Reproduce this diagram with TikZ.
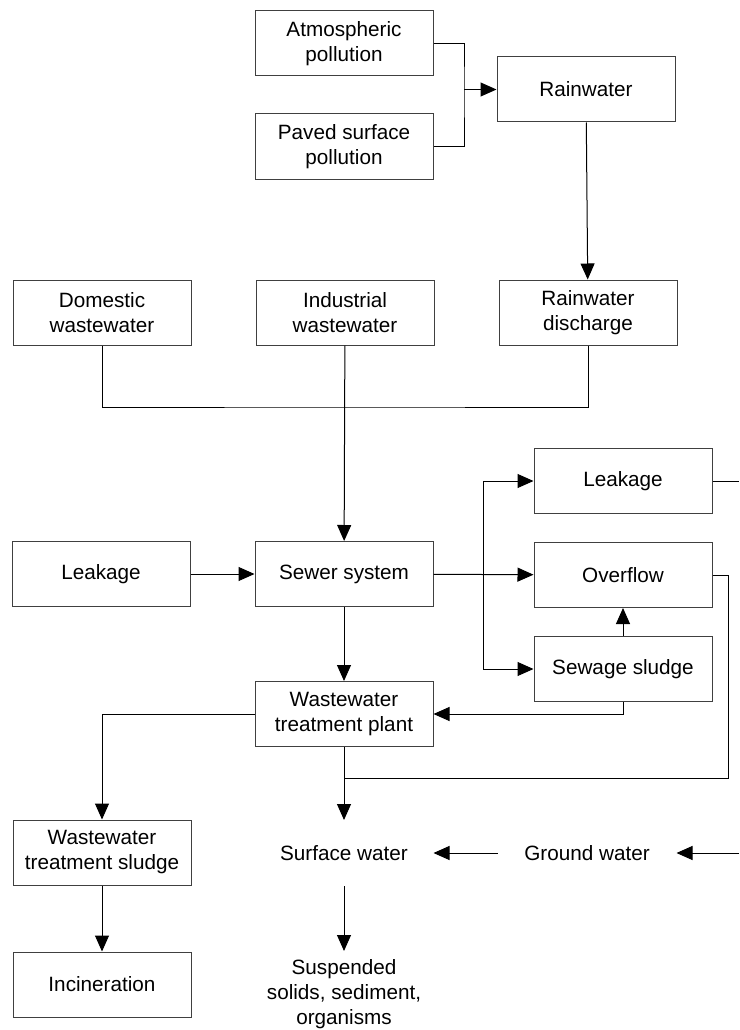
\documentclass[tikz,border=0pt]{standalone}
\usepackage{fontspec}
\setmainfont{Liberation Sans}
\usepackage{tikz}
\usetikzlibrary{arrows.meta,positioning}
\tikzset{%
   box/.style={rectangle, draw=black!75, line width=1pt, minimum width=178pt, minimum height=65pt, inner sep=0pt, align=center, font=\fontsize{20.7}{25}\selectfont},
   txt/.style={box, draw=none},
   arr/.style={-{Triangle[length=16pt, width=14pt]}},
}

\begin{document}
\begin{tikzpicture}[x=1pt, y=-1pt, line width=1pt]
      \useasboundingbox (0,0) rectangle (739,1030);
      \node[box] (atm) at (344,43.5) {Atmospheric\\pollution};
      \node[box, below=37pt of atm] (pav) {Paved surface\\pollution};
      \node[box] (rain) at (586,89.5) {Rainwater};
      \node[box] (dom) at (102,312.5) {Domestic\\wastewater};
      \node[box, right=64pt of dom] (ind) {Industrial\\wastewater};
      \node[box, right=64pt of ind] (rdis) {Rainwater\\discharge};
      \node[box] (sewer) at (344,574) {Sewer system};
      \node[box, left=64pt of sewer] (leakl) {Leakage};
      \node[box] (leakr) at (623,481) {Leakage};
      \node[box, below=28pt of leakr] (over) {Overflow};
      \node[box, below=28pt of over] (sludge) {Sewage sludge};
      \node[box, below=74pt of sewer] (wtp) {Wastewater\\treatment plant};
      \node[box] (wts) at (102,852.5) {Wastewater\\treatment sludge};
      \node[box, below=66pt of wts] (inc) {Incineration};
      \node[txt] (surf) at (344,853) {Surface water};
      \node[txt, right=64pt of surf] (ground) {Ground water};
      \node[txt, anchor=north, inner ysep=8pt] (susp) at (344,951) {Suspended\\solids, sediment,\\organisms};
      \coordinate (j1) at (464,89.5);
      \coordinate (j2) at (344,407);
      \coordinate (j3) at (483,574);
      \coordinate (j4) at (344,778);
      \coordinate (j5) at (728,778);
      \coordinate (e1) at (739,481);
      \coordinate (e2) at (739,853);
      \draw (atm.east) -| (j1) |- (pav.east);
      \draw[arr] (j1) -- (rain.west);
      \draw[arr] (rain) -- (rdis);
      \draw (dom.south) |- (j2) -| (rdis.south);
      \draw[arr] (ind) -- (sewer);
      \draw[arr] (leakl) -- (sewer);
      \draw[arr] (sewer) -- (over);
      \draw[arr] (j3) |- (leakr.west);
      \draw[arr] (j3) |- (sludge.west);
      \draw (leakr.east) -- (e1);
      \draw[arr] (sludge) -- (over);
      \draw[arr] (sludge.south) |- (wtp.east);
      \draw[arr] (sewer) -- (wtp);
      \draw[arr] (wtp.west) -| (wts.north);
      \draw[arr] (wts) -- (inc);
      \draw (over.east) -| (j5) -- (j4);
      \draw[arr] (wtp) -- (surf);
      \draw[arr] (e2) -- (ground.east);
      \draw[arr] (ground) -- (surf);
      \draw[arr] (surf) -- (susp);
\end{tikzpicture}
\end{document}
